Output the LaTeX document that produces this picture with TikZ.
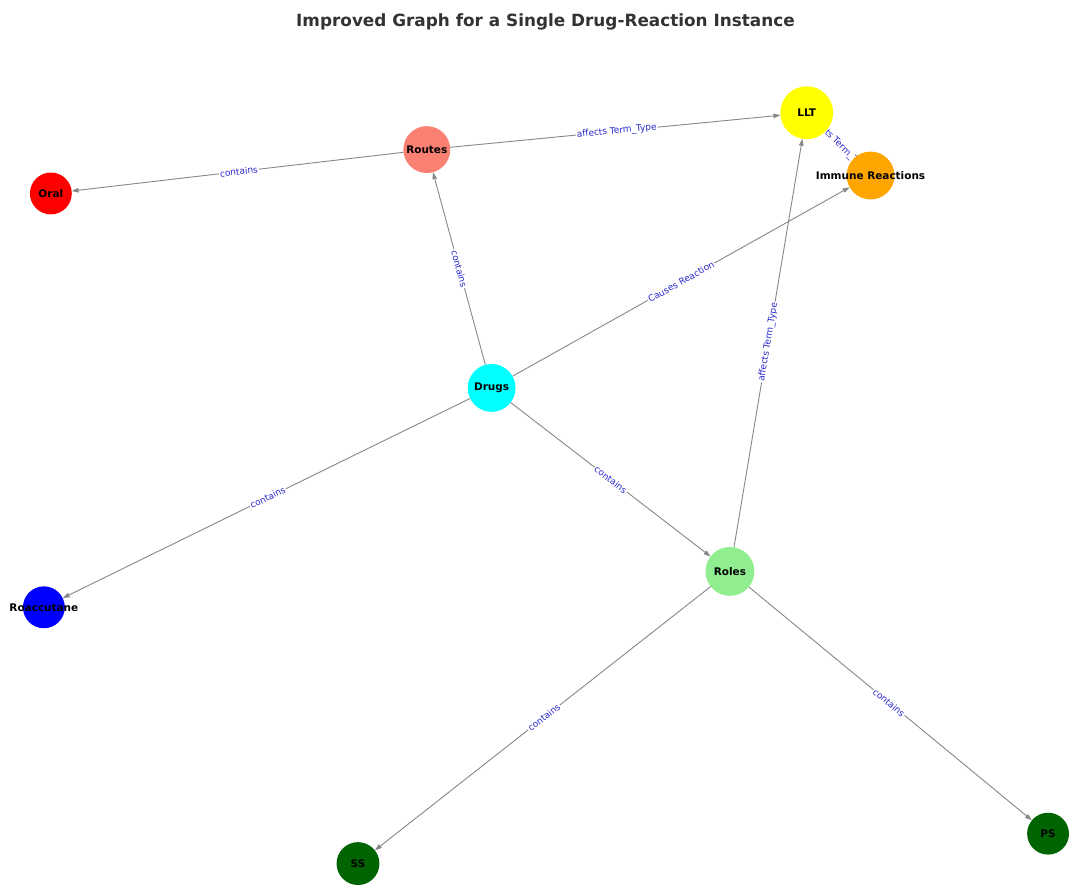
\documentclass[tikz,border=0pt]{standalone}
\usepackage{fontspec}
\setmainfont{DejaVu Sans}
\usetikzlibrary{arrows.meta}
\pgfdeclarelayer{bglayer}
\pgfdeclarelayer{edgelayer}
\pgfdeclarelayer{labellayer}
\pgfsetlayers{bglayer,edgelayer,labellayer,main}
\definecolor{salmonC}{RGB}{250,128,114}
\definecolor{yellowC}{RGB}{255,255,0}
\definecolor{orangeC}{RGB}{255,165,0}
\definecolor{redC}{RGB}{255,0,0}
\definecolor{cyanC}{RGB}{0,255,255}
\definecolor{blueC}{RGB}{0,0,255}
\definecolor{lightgreenC}{RGB}{144,238,144}
\definecolor{darkgreenC}{RGB}{0,100,0}
\definecolor{edgegray}{RGB}{135,135,135}
\definecolor{lblblue}{RGB}{40,40,205}
\definecolor{titlegray}{RGB}{51,51,51}
\tikzset{
  vertex/.style={circle, inner sep=0pt, outer sep=0pt, draw=none,
    minimum size=#1},
  vertex/.default=42pt,
  vtext/.style={font=\fontsize{10.5}{11}\selectfont\bfseries, text=black},
  link/.style={draw=edgegray, line width=0.9pt,
    -{Triangle[length=7pt,width=4.5pt]}},
  lbl/.style={midway, sloped, fill=white, inner sep=1pt,
    font=\fontsize{9}{10}\selectfont, text=lblblue},
}
\begin{document}
\begin{tikzpicture}[x=1pt,y=-1pt]
\begin{pgfonlayer}{bglayer}
\useasboundingbox[fill=white] (0,0) rectangle (1069,883);
\end{pgfonlayer}

\node[font=\fontsize{16.9}{19}\selectfont\bfseries, text=titlegray] (title) at (547,22)
  {Improved Graph for a Single Drug-Reaction Instance};

% nodes: filled discs, names set on top
\node[vertex=47pt, fill=salmonC] (routes) at (428,150) {};
\node[vertex=53pt, fill=yellowC] (llt) at (809,113) {};
\node[vertex=48pt, fill=orangeC] (immune) at (873,176) {};
\node[vertex, fill=redC] (oral) at (51,194) {};
\node[vertex=48pt, fill=cyanC] (drugs) at (493,389) {};
\node[vertex, fill=blueC] (roacc) at (44,609) {};
\node[vertex=49pt, fill=lightgreenC] (roles) at (732,573) {};
\node[vertex=43pt, fill=darkgreenC] (ss) at (359,866) {};
\node[vertex, fill=darkgreenC] (ps) at (1051,836) {};

\node[vtext] (t-routes) at (routes) {Routes};
\node[vtext] (t-llt) at (llt) {LLT};
\node[vtext] (t-immune) at (immune) {Immune Reactions};
\node[vtext] (t-oral) at (oral) {Oral};
\node[vtext] (t-drugs) at (drugs) {Drugs};
\node[vtext] (t-roacc) at (roacc) {Roaccutane};
\node[vtext] (t-roles) at (roles) {Roles};
\node[vtext] (t-ss) at (ss) {SS};
\node[vtext] (t-ps) at (ps) {PS};

% connectors
\begin{pgfonlayer}{edgelayer}
\draw[link] (routes) -- (oral);
\draw[link] (routes) -- (llt);
\draw[link] (drugs) -- (routes);
\draw[link] (drugs) -- (immune);
\draw[link] (drugs) -- (roacc);
\draw[link] (drugs) -- (roles);
\draw[link] (roles) -- (llt);
\draw[link] (roles) -- (ss);
\draw[link] (roles) -- (ps);
\draw[link] (immune) -- (llt);
\end{pgfonlayer}

% connector labels, centred between node centres
\begin{pgfonlayer}{labellayer}
\path (routes.center) -- (oral.center) node[lbl] {contains};
\path (routes.center) -- (llt.center) node[lbl] {affects Term\_Type};
\path (drugs.center) -- (routes.center) node[lbl] {contains};
\path (drugs.center) -- (immune.center) node[lbl] {Causes Reaction};
\path (drugs.center) -- (roacc.center) node[lbl] {contains};
\path (drugs.center) -- (roles.center) node[lbl] {contains};
\path (roles.center) -- (llt.center) node[lbl] {affects Term\_Type};
\path (roles.center) -- (ss.center) node[lbl] {contains};
\path (roles.center) -- (ps.center) node[lbl] {contains};
\path (immune.center) -- (llt.center) node[lbl] {affects Term\_Type};
\end{pgfonlayer}
\end{tikzpicture}
\end{document}
